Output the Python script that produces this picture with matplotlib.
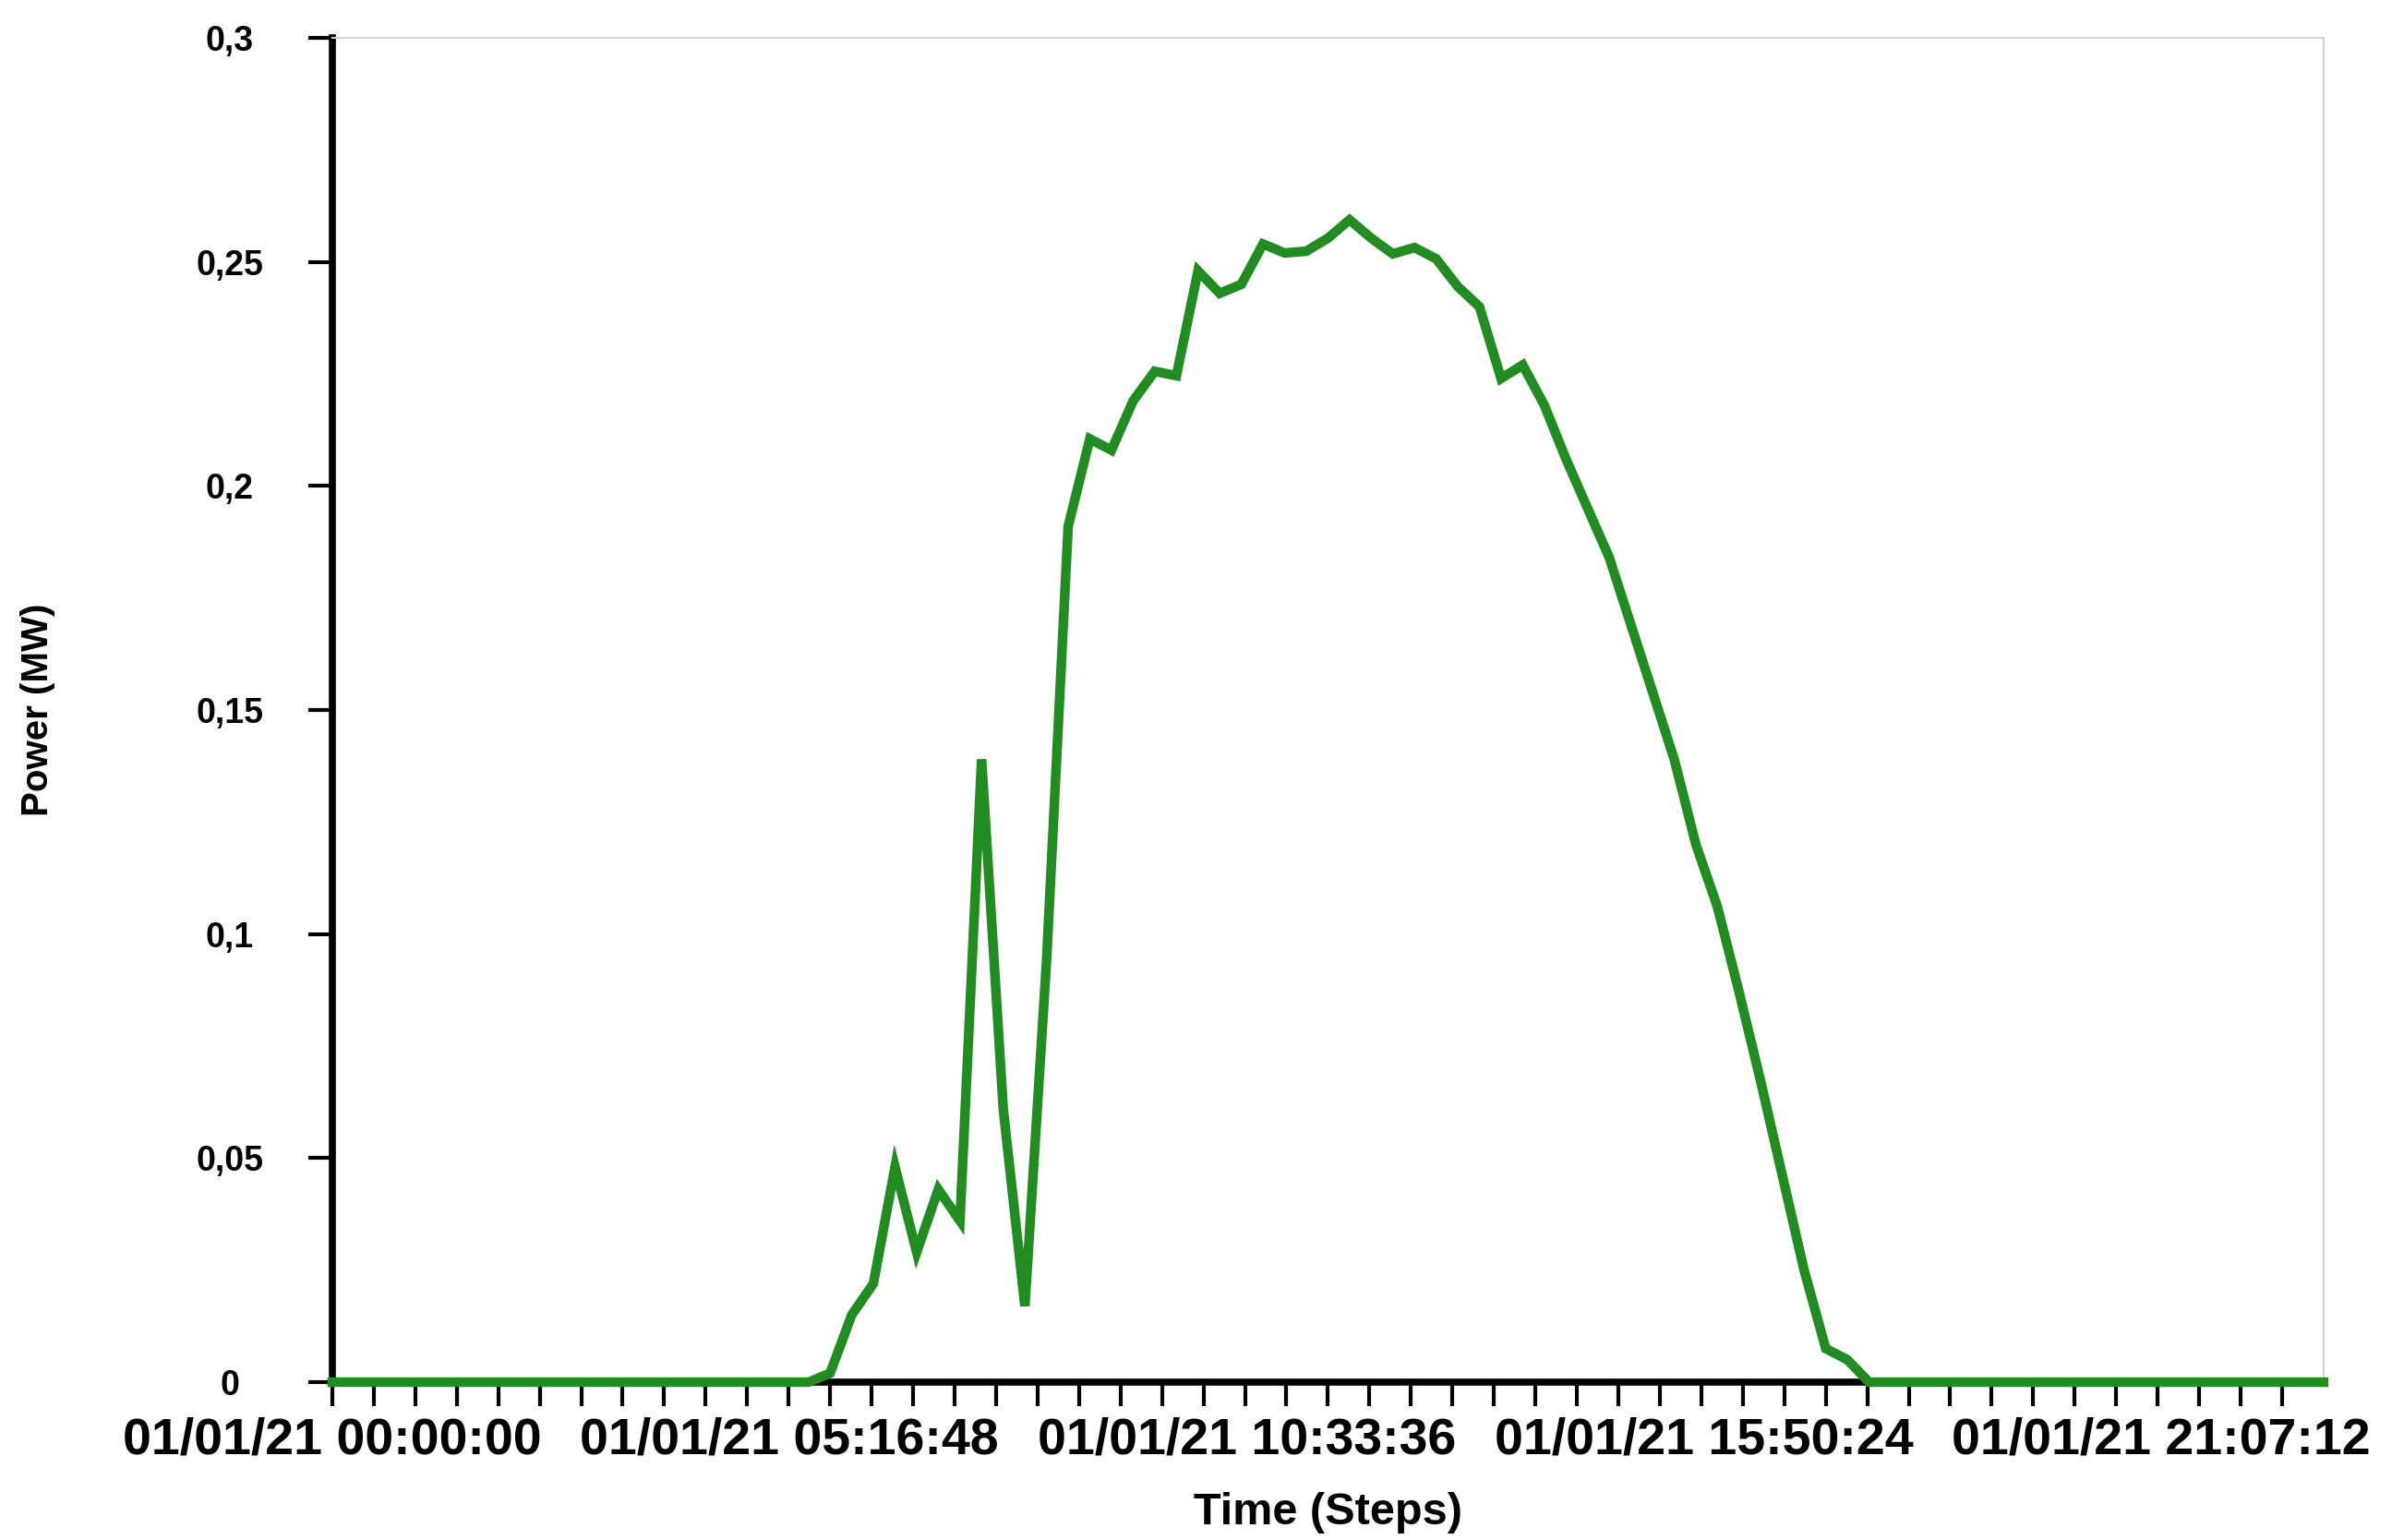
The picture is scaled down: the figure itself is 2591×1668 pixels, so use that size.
import numpy as np
import matplotlib
matplotlib.use("Agg")
from matplotlib import pyplot as plt

# time steps of 15 minutes, 93 points (00:00 ... 23:00)
steps = np.arange(93)
power_mw = np.zeros(93)
power_mw[23:71] = [
    0.002, 0.015, 0.022, 0.048, 0.029, 0.043, 0.036, 0.139,
    0.061, 0.017, 0.094, 0.191, 0.2105, 0.208, 0.219, 0.2256,
    0.2246, 0.248, 0.243, 0.245, 0.254, 0.252, 0.2524, 0.2553,
    0.2594, 0.2553, 0.2518, 0.2532, 0.2507, 0.2445, 0.240, 0.224,
    0.227, 0.218, 0.206, 0.195, 0.184, 0.169, 0.154, 0.139,
    0.120, 0.106, 0.087, 0.067, 0.046, 0.025, 0.0075, 0.005,
]

# x labels every 5:16:48 (= 21.12 steps)
x_label_steps = [0, 21.12, 42.24, 63.36, 84.48]
x_labels = ["01/01/21 00:00:00", "01/01/21 05:16:48", "01/01/21 10:33:36",
            "01/01/21 15:50:24", "01/01/21 21:07:12"]
y_ticks = [0, 0.05, 0.1, 0.15, 0.2, 0.25, 0.3]
y_labels = ["0", "0,05", "0,1", "0,15", "0,2", "0,25", "0,3"]

plt.rcParams['font.family'] = ['Liberation Sans', 'DejaVu Sans']

fig = plt.figure(figsize=(25.91, 16.68), dpi=100)
ax = fig.add_axes([0.1389, 0.1025, 0.8325, 0.8729])

ax.plot(steps, power_mw, color='#228B22', lw=7.5, solid_joinstyle='miter',
        clip_on=False, zorder=5)

ax.set_xlim(0, 92)
ax.set_ylim(0, 0.3)

# spines
for s in ['left', 'bottom']:
    ax.spines[s].set_color('black')
    ax.spines[s].set_linewidth(5.5)
for s in ['top', 'right']:
    ax.spines[s].set_color('#d3d3d3')
    ax.spines[s].set_linewidth(1.5)

# y axis
ax.set_yticks(y_ticks)
ax.set_yticklabels(y_labels, fontsize=27, fontweight='bold')
ax.tick_params(axis='y', length=19, width=3, pad=61)
for lab in ax.get_yticklabels():
    lab.set_horizontalalignment('center')

# x axis: labels without ticks, small ticks separately
ax.xaxis.remove_overlapping_locs = False
ax.set_xticks(x_label_steps)
ax.set_xticklabels(x_labels, fontsize=40, fontweight='bold')
ax.tick_params(axis='x', which='major', length=0, pad=27)
ax.set_xticks(np.arange(48) * 92 / 48, minor=True)
ax.tick_params(axis='x', which='minor', length=19, width=3)

ax.set_xlabel("Time (Steps)", fontsize=35, fontweight='bold')
ax.xaxis.set_label_coords(0.5, -0.097)
ax.xaxis.label.set_va('center')
ax.set_ylabel("Power (MW)", fontsize=29, fontweight='bold')
ax.yaxis.set_label_coords(-0.148, 0.5)
ax.yaxis.label.set_va('center')

fig.savefig("out.png", dpi=100)
